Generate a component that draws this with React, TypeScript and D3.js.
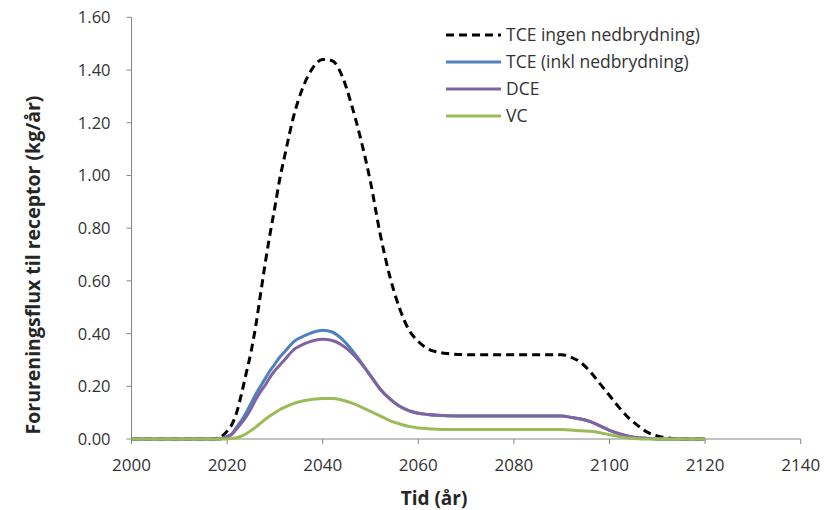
import React from "react";
import * as d3 from "d3";

// Sample years (x values shared by all series)
const years = [
  2000, 2016, 2018, 2019, 2020, 2021, 2022, 2023, 2024, 2025, 2026, 2027, 2028, 2029, 2030,
  2031, 2032, 2034, 2036, 2038, 2040, 2042, 2044, 2046, 2048, 2050, 2052, 2054, 2056, 2058,
  2060, 2062, 2064, 2066, 2070, 2080, 2090, 2092, 2094, 2096, 2098, 2100, 2102, 2104, 2106,
  2108, 2110, 2112, 2114, 2116, 2120,
];

// Flux to receptor (kg/år)
const tceNoDegradation = [
  0, 0, 0.003, 0.012, 0.03, 0.055, 0.1, 0.17, 0.25, 0.33, 0.43, 0.55, 0.67, 0.78, 0.88,
  0.985, 1.07, 1.23, 1.34, 1.41, 1.44, 1.435, 1.38, 1.27, 1.135, 0.975, 0.78, 0.62, 0.5, 0.415,
  0.37, 0.342, 0.33, 0.324, 0.32, 0.32, 0.32, 0.31, 0.29, 0.255, 0.21, 0.165, 0.12, 0.08, 0.05,
  0.025, 0.012, 0.005, 0.001, 0, 0,
];
const tceWithDegradation = [
  0, 0, 0, 0.003, 0.01, 0.02, 0.045, 0.07, 0.1, 0.135, 0.17, 0.2, 0.23, 0.26, 0.285,
  0.31, 0.33, 0.37, 0.39, 0.405, 0.413, 0.406, 0.38, 0.34, 0.292, 0.24, 0.19, 0.153, 0.125, 0.108,
  0.098, 0.093, 0.09, 0.088, 0.087, 0.087, 0.087, 0.082, 0.076, 0.066, 0.05, 0.033, 0.02, 0.011, 0.005,
  0.002, 0, 0, 0, 0, 0,
];
const dce = [
  0, 0, 0, 0.002, 0.008, 0.018, 0.038, 0.06, 0.085, 0.115, 0.15, 0.18, 0.205, 0.235, 0.26,
  0.28, 0.3, 0.34, 0.36, 0.373, 0.378, 0.374, 0.357, 0.328, 0.288, 0.24, 0.19, 0.153, 0.125, 0.108,
  0.098, 0.093, 0.09, 0.088, 0.087, 0.087, 0.087, 0.082, 0.076, 0.066, 0.05, 0.033, 0.02, 0.011, 0.005,
  0.002, 0, 0, 0, 0, 0,
];
const vc = [
  0, 0, 0, 0, 0, 0.002, 0.005, 0.011, 0.02, 0.032, 0.045, 0.06, 0.075, 0.088, 0.1,
  0.111, 0.12, 0.135, 0.145, 0.151, 0.154, 0.154, 0.148, 0.137, 0.122, 0.105, 0.088, 0.07, 0.058, 0.048,
  0.042, 0.039, 0.037, 0.036, 0.036, 0.036, 0.036, 0.034, 0.031, 0.029, 0.024, 0.016, 0.009, 0.004, 0.001,
  0, 0, 0, 0, 0, 0,
];

const seriesNames = [
  "TCE ingen nedbrydning)",
  "TCE (inkl nedbrydning)",
  "DCE",
  "VC",
];
const seriesValues = [tceNoDegradation, tceWithDegradation, dce, vc];
const seriesColors = ["#000000", "#4F81BD", "#8064A2", "#9BBB59"];
const seriesDash = ["8,5", null, null, null];

const xTicks = [2000, 2020, 2040, 2060, 2080, 2100, 2120, 2140];
const yTicks = [0, 0.2, 0.4, 0.6, 0.8, 1.0, 1.2, 1.4, 1.6];

const W = 839;
const H = 510;
const FONT = "'Open Sans', Lato, sans-serif";

export default function App() {
  const x = d3.scaleLinear().domain([2000, 2140]).range([131.5, 800.7]);
  const y = d3.scaleLinear().domain([0, 1.6]).range([439, 17.3]);

  const line = d3
    .line<number>()
    .x((_, i) => x(years[i]))
    .y((v) => y(v))
    .curve(d3.curveMonotoneX);

  const axisColor = "#868686";
  const labelColor = "#333333";

  return (
    <svg
      width={W}
      height={H}
      style={{ position: "absolute", left: 0, top: 0, background: "#fff" }}
      fontFamily={FONT}
    >
      {/* Axes */}
      <line x1={x(2000)} x2={x(2000)} y1={y(1.6)} y2={y(0)} stroke={axisColor} strokeWidth={1} />
      <line x1={x(2000)} x2={x(2140)} y1={y(0)} y2={y(0)} stroke={axisColor} strokeWidth={1} />

      {yTicks.map((t) => (
        <g key={`y${t}`}>
          <line x1={x(2000) - 5} x2={x(2000)} y1={y(t)} y2={y(t)} stroke={axisColor} />
          <text
            x={x(2000) - 21}
            y={y(t)}
            dy="0.36em"
            textAnchor="end"
            fontSize={16.5}
            fill={labelColor}
          >
            {t.toFixed(2)}
          </text>
        </g>
      ))}

      {xTicks.map((t) => (
        <g key={`x${t}`}>
          <line x1={x(t)} x2={x(t)} y1={y(0)} y2={y(0) + 5} stroke={axisColor} />
          <text x={x(t)} y={471} textAnchor="middle" fontSize={17} fill={labelColor}>
            {t}
          </text>
        </g>
      ))}

      {/* Series */}
      {seriesValues.map((vals, i) => (
        <path
          key={seriesNames[i]}
          d={line(vals) || ""}
          fill="none"
          stroke={seriesColors[i]}
          strokeWidth={3}
          strokeDasharray={seriesDash[i] || undefined}
          strokeLinejoin="round"
        />
      ))}

      {/* Legend */}
      {seriesNames.map((name, i) => {
        const ly = 35 + i * 27;
        return (
          <g key={`leg${i}`}>
            <line
              x1={446}
              x2={501}
              y1={ly}
              y2={ly}
              stroke={seriesColors[i]}
              strokeWidth={3}
              strokeDasharray={seriesDash[i] || undefined}
            />
            <text x={506} y={ly} dy="0.36em" fontSize={17.5} fill={labelColor}>
              {name}
            </text>
          </g>
        );
      })}

      {/* Axis titles */}
      <text
        x={434}
        y={505}
        textAnchor="middle"
        fontSize={19}
        fontWeight="bold"
        fill="#262626"
      >
        Tid (år)
      </text>
      <text
        transform={`translate(40, 265) rotate(-90)`}
        textAnchor="middle"
        fontSize={19.5}
        fontWeight="bold"
        fill="#262626"
      >
        Forureningsflux til receptor (kg/år)
      </text>
    </svg>
  );
}
